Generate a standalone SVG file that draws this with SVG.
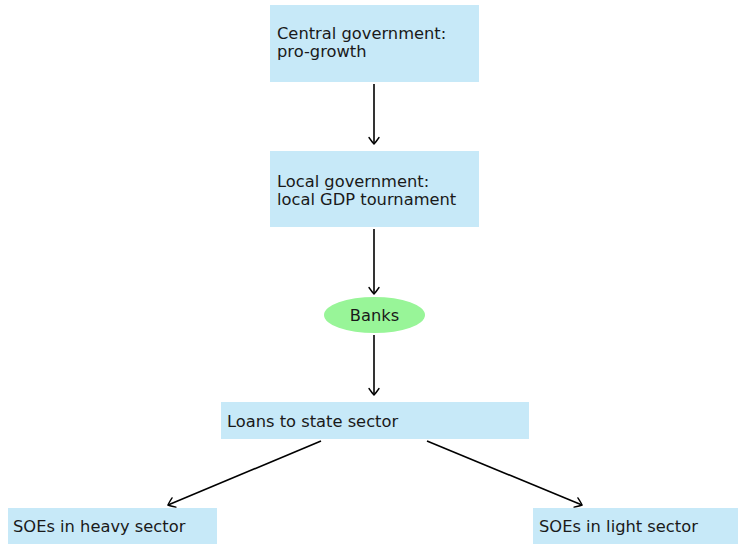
<svg xmlns="http://www.w3.org/2000/svg" width="738" height="544" viewBox="0 0 738 544">
  <style>
    .box { fill: #c7e9f8; }
    .oval { fill: #98f598; }
    .lbl { font-family: "DejaVu Sans", sans-serif; font-size: 16.3px; fill: #1a1a1a; }
    .edge { stroke: #000; stroke-width: 1.6; fill: none; marker-end: url(#tip); }
  </style>
  <defs>
    <marker id="tip" viewBox="-8 -6 10 12" refX="0" refY="0" markerWidth="10" markerHeight="12" markerUnits="userSpaceOnUse" orient="auto">
      <path d="M -6.5 -5 Q -1.5 -1.5 0 0 Q -1.5 1.5 -6.5 5" fill="none" stroke="#000" stroke-width="1.4" stroke-linecap="round"/>
    </marker>
  </defs>
  <rect width="738" height="544" fill="#fff"/>

  <g id="edges">
    <line class="edge" x1="374" y1="84" x2="374" y2="144"/>
    <line class="edge" x1="374" y1="229" x2="374" y2="294"/>
    <line class="edge" x1="374" y1="335" x2="374" y2="395"/>
    <line class="edge" x1="321" y1="441" x2="168" y2="505"/>
    <line class="edge" x1="427" y1="441" x2="582" y2="505"/>
  </g>

  <g id="central">
    <rect class="box" x="270" y="5" width="209" height="77"/>
    <text class="lbl" x="277" y="39">Central government:</text>
    <text class="lbl" x="277" y="57">pro-growth</text>
  </g>

  <g id="local">
    <rect class="box" x="270" y="151" width="209" height="76"/>
    <text class="lbl" x="277" y="187">Local government:</text>
    <text class="lbl" x="277" y="205">local GDP tournament</text>
  </g>

  <g id="banks">
    <ellipse class="oval" cx="374.5" cy="315" rx="50.5" ry="18"/>
    <text class="lbl" x="374.5" y="320.5" text-anchor="middle">Banks</text>
  </g>

  <g id="loans">
    <rect class="box" x="221" y="402" width="308" height="37"/>
    <text class="lbl" x="227" y="426.5">Loans to state sector</text>
  </g>

  <g id="heavy">
    <rect class="box" x="8" y="508" width="209" height="36"/>
    <text class="lbl" x="13" y="531.5">SOEs in heavy sector</text>
  </g>

  <g id="light">
    <rect class="box" x="533" y="508" width="205" height="36"/>
    <text class="lbl" x="539" y="531.5">SOEs in light sector</text>
  </g>
</svg>
